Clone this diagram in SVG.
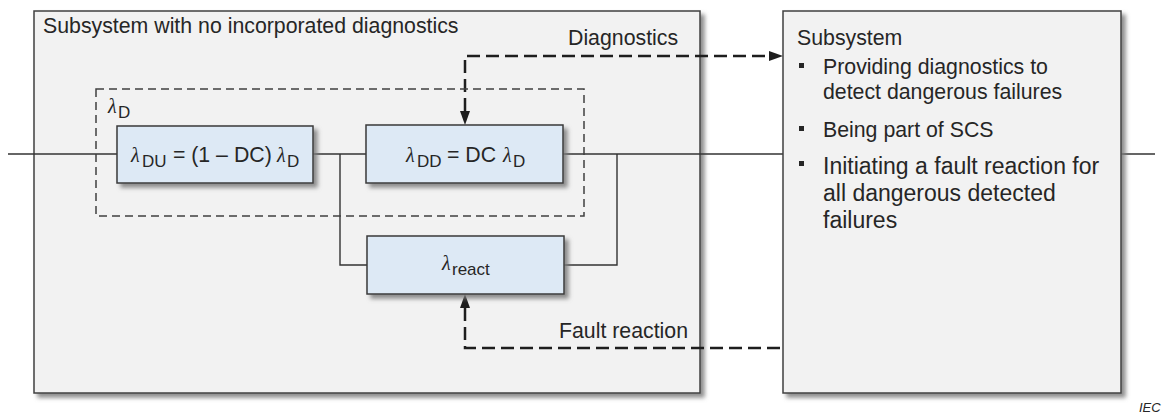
<svg xmlns="http://www.w3.org/2000/svg" width="1169" height="416" viewBox="0 0 1169 416">
  <defs>
    <filter id="shadow" x="-10%" y="-10%" width="125%" height="130%">
      <feDropShadow dx="4" dy="4" stdDeviation="2" flood-color="#7a7a7a" flood-opacity="0.85"/>
    </filter>
    <marker id="arrow" markerWidth="14" markerHeight="10" refX="0" refY="5" orient="auto-start-reverse" markerUnits="userSpaceOnUse">
      <path d="M0,0 L14,5 L0,10 z" fill="#1e1e1e"/>
    </marker>
    <style>
      .outer { fill: #f2f2f2; stroke: #404040; stroke-width: 1.5; filter: url(#shadow); }
      .block { fill: #dde9f5; stroke: #3a3a3a; stroke-width: 1.5; filter: url(#shadow); }
      .wire { fill: none; stroke: #333333; stroke-width: 1.4; }
      .group { fill: none; stroke: #404040; stroke-width: 1.5; stroke-dasharray: 8 5; }
      .signal { fill: none; stroke: #1e1e1e; stroke-width: 2.5; stroke-dasharray: 13 6; }
      text { font-family: "Liberation Sans", Arial, sans-serif; fill: #262626; }
      .lbl { font-size: 21.3px; }
      .big { font-size: 23px; }
      .sub { font-size: 17px; }
      .lam { font-family: "Liberation Serif", "Times New Roman", serif; font-style: italic; font-size: 20px; }
      .iec { font-size: 13px; font-style: italic; }
      .bullet { fill: #262626; }
    </style>
  </defs>

  <rect width="1169" height="416" fill="#ffffff"/>

  <!-- outer subsystem without diagnostics -->
  <g id="subsystem-left">
    <rect class="outer" x="34" y="11" width="666" height="382"/>
    <text class="lbl" x="43" y="33">Subsystem with no incorporated diagnostics</text>
  </g>

  <!-- connectors -->
  <g id="connectors">
    <!-- series chain -->
    <path class="wire" d="M8,154 H117"/>
    <path class="wire" d="M313,154 H366"/>
    <path class="wire" d="M563,154 H783"/>
    <path class="wire" d="M1121,154 H1155"/>
    <!-- parallel branch through the reaction block -->
    <path class="wire" d="M340,154 V265 H367"/>
    <path class="wire" d="M564,265 H617 V154"/>
    <!-- diagnostics signal -->
    <path class="signal" d="M465,111 V56 H769" marker-start="url(#arrow)" marker-end="url(#arrow)"/>
    <!-- fault reaction signal -->
    <path class="signal" d="M465,308 V348 H783" marker-start="url(#arrow)"/>
  </g>

  <!-- dashed grouping of dangerous failures -->
  <g id="lambda-d-group">
    <rect class="group" x="96" y="89" width="488" height="127"/>
    <text x="108" y="113"><tspan class="lam">λ</tspan><tspan class="sub" x="118" y="118">D</tspan></text>
  </g>

  <g id="block-du">
    <rect class="block" x="117" y="126" width="196" height="57"/>
    <text x="131" y="162"><tspan class="lam">λ</tspan><tspan class="sub" x="142" y="167">DU</tspan><tspan class="lbl" x="167" y="162"> = (1 – DC) </tspan><tspan class="lam" x="277" y="162">λ</tspan><tspan class="sub" x="287" y="167">D</tspan></text>
  </g>

  <g id="block-dd">
    <rect class="block" x="366" y="125" width="197" height="58"/>
    <text x="406" y="162"><tspan class="lam">λ</tspan><tspan class="sub" x="417" y="167">DD</tspan><tspan class="lbl" x="441" y="162"> = DC </tspan><tspan class="lam" x="503" y="162">λ</tspan><tspan class="sub" x="513" y="167">D</tspan></text>
  </g>

  <g id="block-react">
    <rect class="block" x="367" y="236" width="197" height="58"/>
    <text x="442" y="270"><tspan class="lam">λ</tspan><tspan class="sub" x="452" y="275">react</tspan></text>
  </g>

  <g id="signal-labels">
    <text class="lbl" x="568" y="45">Diagnostics</text>
    <text class="lbl" x="559" y="338">Fault reaction</text>
  </g>

  <!-- subsystem providing the diagnostics -->
  <g id="subsystem-right">
    <rect class="outer" x="783" y="11" width="338" height="382"/>
    <text class="lbl" x="797" y="45">Subsystem</text>
    <rect class="bullet" x="799" y="63" width="5" height="5"/>
    <text class="lbl" x="823" y="74">Providing diagnostics to</text>
    <text class="lbl" x="823" y="99">detect dangerous failures</text>
    <rect class="bullet" x="799" y="126" width="5" height="5"/>
    <text class="lbl" x="823" y="137">Being part of SCS</text>
    <rect class="bullet" x="799" y="161" width="5" height="5"/>
    <text class="big" x="823" y="174">Initiating a fault reaction for</text>
    <text class="big" x="823" y="201">all dangerous detected</text>
    <text class="big" x="823" y="228">failures</text>
  </g>

  <text class="iec" x="1139" y="412">IEC</text>
</svg>
